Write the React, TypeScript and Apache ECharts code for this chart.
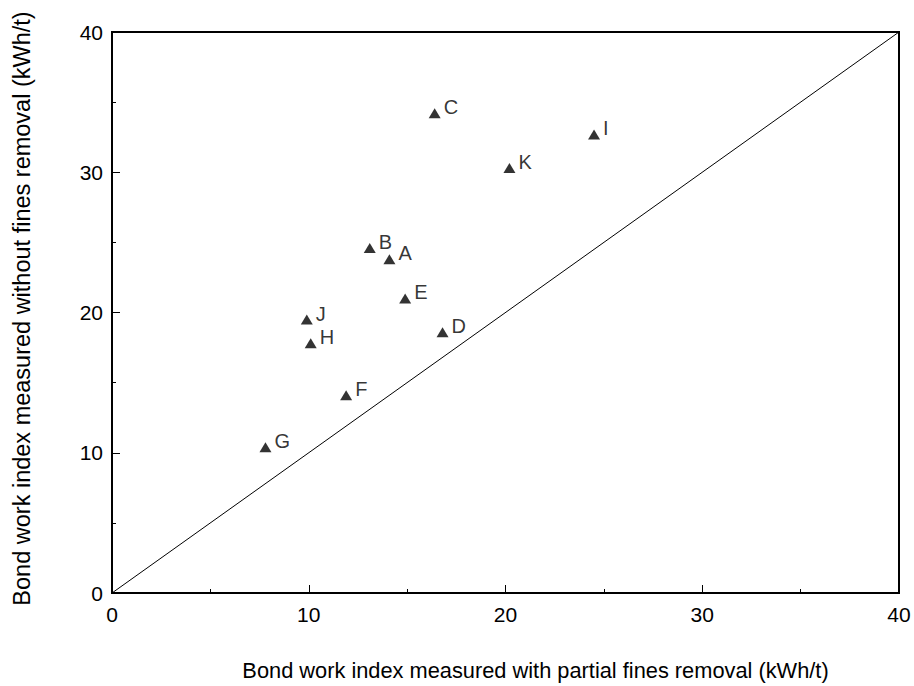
import React, { useEffect, useRef } from "react";
import * as echarts from "echarts";

const sampleLabels = ["A", "B", "C", "D", "E", "F", "G", "H", "I", "J", "K"];
const withPartialRemoval = [14.1, 13.1, 16.4, 16.8, 14.9, 11.9, 7.8, 10.1, 24.5, 9.9, 20.2];
const withoutRemoval = [23.8, 24.6, 34.2, 18.6, 21.0, 14.1, 10.4, 17.8, 32.7, 19.5, 30.3];
const identityLine = [[0, 0], [40, 40]];

const xTitle = "Bond work index measured with partial fines removal (kWh/t)";
const yTitle = "Bond work index measured without fines removal (kWh/t)";

const FONT = "Liberation Sans, Arial, sans-serif";

export default function App() {
  const ref = useRef<HTMLDivElement>(null);
  useEffect(() => {
    if (!ref.current) return;
    const chart = echarts.init(ref.current, undefined, { renderer: "svg" });
    const points = sampleLabels.map((n, i) => ({ name: n, value: [withPartialRemoval[i], withoutRemoval[i]] }));
    const axisCommon = {
      min: 0,
      max: 40,
      interval: 10,
      axisLine: { show: true, onZero: false, lineStyle: { color: "#000", width: 2 } },
      axisTick: { show: true, inside: true, length: 8, lineStyle: { color: "#000", width: 1 } },
      minorTick: { show: true, splitNumber: 2, length: 4, lineStyle: { color: "#000", width: 1 } },
      splitLine: { show: false },
      axisLabel: { color: "#000", fontSize: 21, fontFamily: FONT },
      nameLocation: "middle" as const,
    };
    chart.setOption({
      animation: false,
      backgroundColor: "#fff",
      grid: {
        left: 112,
        right: 15,
        top: 32,
        bottom: 93,
        show: true,
        borderColor: "#000",
        borderWidth: 2,
        containLabel: false,
        outerBoundsMode: "none",
      },
      xAxis: {
        ...axisCommon,
        type: "value",
        name: xTitle,
        nameGap: 66,
        nameTextStyle: { color: "#000", fontSize: 21.8, fontFamily: FONT, padding: [0, 0, 0, 60] },
        axisLabel: { ...axisCommon.axisLabel, margin: 11 },
      },
      yAxis: {
        ...axisCommon,
        type: "value",
        name: yTitle,
        nameGap: 78,
        nameTextStyle: { color: "#000", fontSize: 23.5, fontFamily: FONT, padding: [0, 0, 0, 8] },
        axisLabel: { ...axisCommon.axisLabel, margin: 9 },
      },
      series: [
        {
          type: "line",
          data: identityLine,
          symbol: "none",
          lineStyle: { color: "#000", width: 1 },
          silent: true,
        },
        {
          type: "scatter",
          data: points,
          symbol: "triangle",
          symbolSize: [12, 10],
          itemStyle: { color: "#000" },
          label: {
            show: true,
            position: "right",
            distance: 3,
            offset: [0, -6],
            formatter: "{b}",
            color: "#000",
            fontSize: 20,
            fontFamily: FONT,
          },
        },
      ],
    });
    return () => chart.dispose();
  }, []);
  return (
    <div
      ref={ref}
      style={{ position: "absolute", left: 0, top: 0, width: 914, height: 686 }}
    />
  );
}
